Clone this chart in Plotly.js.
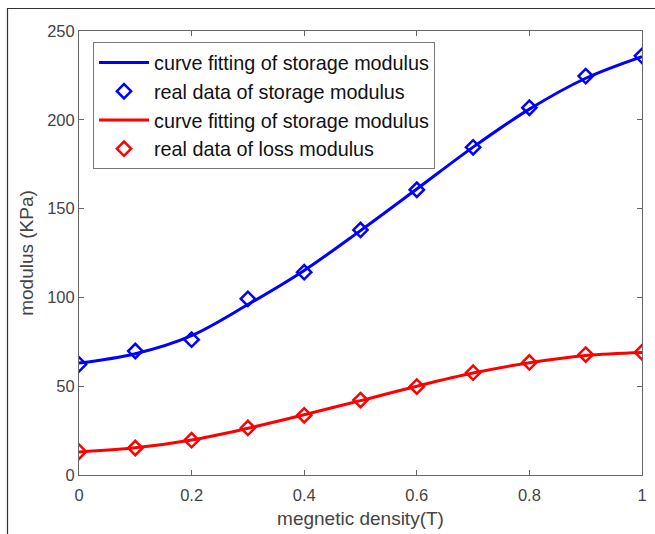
<!DOCTYPE html>
<html><head><meta charset="utf-8">
<script src="https://cdn.plot.ly/plotly-3.0.1.min.js"></script>
<style>html,body{margin:0;padding:0;background:#fff}</style>
</head><body><div id="chart" style="width:655px;height:534px"></div>
<script>
const xValues = [0, 0.1, 0.2, 0.3, 0.4, 0.5, 0.6, 0.7, 0.8, 0.9, 1.0];
const storageReal = [62.3, 69.8, 76.2, 99.2, 114.2, 138.0, 160.6, 184.5, 206.8, 224.6, 236.0];
const storageFit = [63.0, 68.3, 78.5, 96.0, 115.2, 137.6, 161.0, 184.6, 206.0, 223.4, 235.6];
const lossReal = [13.1, 15.2, 19.6, 26.5, 33.6, 42.2, 49.8, 57.6, 63.4, 67.8, 69.1];
const lossFit = [13.0, 15.3, 19.7, 26.3, 33.9, 41.9, 50.0, 57.4, 63.2, 67.3, 69.0];
const legendNames = ['curve fitting of storage modulus', 'real data of storage modulus',
                     'curve fitting of storage modulus', 'real data of loss modulus'];
const xTicks = [0, 0.2, 0.4, 0.6, 0.8, 1];
const xTickText = ['0', '0.2', '0.4', '0.6', '0.8', '1'];
const yTicks = [0, 50, 100, 150, 200, 250];

const BLUE = '#0000ff', RED = '#ff0000';
const traces = [
  {x: xValues, y: storageFit, mode: 'lines', name: legendNames[0],
   line: {color: BLUE, width: 3, shape: 'spline'}},
  {x: xValues, y: storageReal, mode: 'markers', name: legendNames[1],
   marker: {symbol: 'diamond-open', size: 11, color: BLUE, line: {width: 2.5, color: BLUE}}},
  {x: xValues, y: lossFit, mode: 'lines', name: legendNames[2],
   line: {color: RED, width: 3, shape: 'spline'}},
  {x: xValues, y: lossReal, mode: 'markers', name: legendNames[3],
   marker: {symbol: 'diamond-open', size: 11, color: RED, line: {width: 2.5, color: RED}}}
];
const axisCommon = {
  showline: true, linecolor: '#666', linewidth: 1, mirror: 'ticks',
  ticks: 'inside', ticklen: 5, tickcolor: '#666', tickwidth: 1,
  showgrid: false, zeroline: false,
  tickfont: {family: 'Liberation Sans, Arial, sans-serif', size: 16.5, color: '#444'}
};
const layout = {
  width: 655, height: 534,
  margin: {l: 79, r: 13, t: 31, b: 59},
  paper_bgcolor: '#fff', plot_bgcolor: '#fff',
  font: {family: 'Liberation Sans, Arial, sans-serif', color: '#444'},
  xaxis: Object.assign({}, axisCommon, {
    range: [0, 1], tickvals: xTicks, ticktext: xTickText, ticklabelstandoff: 5,
    title: {text: 'megnetic density(T)', font: {size: 19, color: '#444'}, standoff: 8}
  }),
  yaxis: Object.assign({}, axisCommon, {
    range: [0, 250], tickvals: yTicks,
    title: {text: 'modulus (KPa)', font: {size: 19, color: '#444'}, standoff: 8}
  }),
  showlegend: true,
  legend: {
    x: 0.0249, y: 0.975, xanchor: 'left', yanchor: 'top',
    bgcolor: '#fff', bordercolor: '#777', borderwidth: 1,
    itemwidth: 50, tracegroupgap: 0,
    font: {family: 'Liberation Sans, Arial, sans-serif', size: 19.8, color: '#111'}
  },
  shapes: [
    {type: 'path', xref: 'paper', yref: 'paper',
     path: 'M -0.127 -0.3 L -0.127 1.0507 L 1.05 1.0507',
     line: {color: '#333', width: 1.2}}
  ]
};
Plotly.newPlot('chart', traces, layout, {displayModeBar: false, staticPlot: true});
</script></body></html>
